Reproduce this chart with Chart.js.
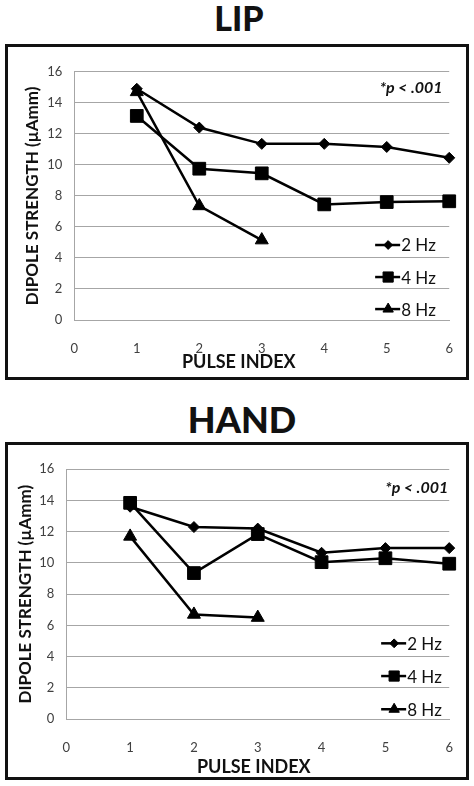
<!DOCTYPE html>
<html>
<head>
<meta charset="utf-8">
<script src="https://cdn.jsdelivr.net/npm/chart.js@4.4.1/dist/chart.umd.min.js"></script>
<style>
body { margin: 0; background: #fff; width: 474px; height: 786px; position: relative; overflow: hidden; font-family: Lato, sans-serif; }
.ttl { position: absolute; left: 0; width: 478px; text-align: center; font-weight: 900; color: #111; }
.box { position: absolute; left: 5px; width: 458px; border: 3px solid #111; }
canvas { display: block; }
</style>
</head>
<body>
<div class="ttl" style="top:1px;font-size:34px;line-height:34px">LIP</div>
<div class="box" style="top:44px;height:330px"><canvas id="lip" width="458" height="330"></canvas></div>
<div class="ttl" style="top:401px;font-size:36px;line-height:36px;width:484px">HAND</div>
<div class="box" style="top:442px;height:332px"><canvas id="hand" width="458" height="332"></canvas></div>
<script>
// pulse index on the x axis
const pulseIndex = [1, 2, 3, 4, 5, 6];
const seriesLabels = ['2 Hz', '4 Hz', '8 Hz'];
const pointStyles = ['rectRot', 'rect', 'triangle'];
const pointSizes = [5.5, 9, 7.5];

// LIP, dipole strength (uAmm)
const lip2Hz = [14.9, 12.4, 11.35, 11.35, 11.15, 10.45];
const lip4Hz = [13.15, 9.75, 9.45, 7.45, 7.6, 7.65];
const lip8Hz = [14.7, 7.35, 5.15];

// HAND, dipole strength (uAmm)
const hand2Hz = [13.6, 12.3, 12.2, 10.65, 10.95, 10.95];
const hand4Hz = [13.85, 9.35, 11.85, 10.05, 10.3, 9.95];
const hand8Hz = [11.7, 6.7, 6.5];

const pText = '*p < .001';
const xTitle = 'PULSE INDEX';
const yTitle = 'DIPOLE STRENGTH (µAmm)';

const extras = {
    id: 'extras',
    afterDatasetsDraw(chart, args, o) {
        const ctx = chart.ctx, a = chart.chartArea;
        ctx.save();
        ctx.fillStyle = '#111';
        ctx.textBaseline = 'middle';

        ctx.font = 'italic bold 16px Lato';
        ctx.textAlign = 'right';
        ctx.fillText(pText, a.right - o.pRight, a.top + o.pTop);

        ctx.font = '17px Lato';
        chart.data.datasets.forEach(function (ds, i) {
            const y = a.top + (a.bottom - a.top) * o.legFracs[i];
            const tw = ctx.measureText(ds.label).width;
            const tx = a.right - o.legRight - tw;
            ctx.strokeStyle = '#000';
            ctx.lineWidth = 2.5;
            ctx.beginPath();
            ctx.moveTo(tx - 26, y);
            ctx.lineTo(tx - 1, y);
            ctx.stroke();
            ctx.fillStyle = '#000';
            ctx.lineWidth = 1;
            Chart.helpers.drawPoint(ctx, {pointStyle: ds.pointStyle, radius: ds.pointRadius * 0.8, rotation: 0, borderWidth: 1}, tx - 13, y);
            ctx.fillStyle = '#111';
            ctx.textAlign = 'left';
            ctx.fillText(ds.label, tx, y + 1);
        });

        ctx.font = 'bold 18px Lato';
        ctx.textAlign = 'center';
        ctx.fillText(xTitle, (a.left + a.right) / 2 + o.xDx, a.bottom + o.xDy);
        ctx.restore();
    }
};

function makeDatasets(series) {
    return series.map(function (vals, i) {
        return {
            label: seriesLabels[i],
            data: vals.map(function (v, j) { return {x: pulseIndex[j], y: v}; }),
            borderColor: '#000',
            backgroundColor: '#000',
            borderWidth: 2.5,
            pointStyle: pointStyles[i],
            pointRadius: pointSizes[i],
            pointBackgroundColor: '#000',
            pointBorderColor: '#000',
            pointBorderWidth: 1,
            clip: false
        };
    });
}

function makeChart(id, series, g) {
    new Chart(document.getElementById(id).getContext('2d'), {
        type: 'line',
        data: {datasets: makeDatasets(series)},
        plugins: [extras],
        options: {
            responsive: false,
            animation: false,
            layout: {padding: {top: g.top, right: g.right, left: 0, bottom: 0}},
            plugins: {
                legend: {display: false},
                tooltip: {enabled: false},
                extras: g.extras
            },
            scales: {
                x: {
                    type: 'linear', min: 0, max: 6,
                    grid: {display: false},
                    border: {display: true, color: '#a6a6a6', width: 1},
                    ticks: {stepSize: 1, padding: 13, color: '#404040', font: {family: 'Lato', size: 13}},
                    afterFit: function (s) { s.height = g.xHeight; }
                },
                y: {
                    min: 0, max: 16,
                    grid: {color: '#a6a6a6', lineWidth: 1, drawTicks: false},
                    border: {display: true, color: '#a6a6a6', width: 1},
                    ticks: {stepSize: 2, padding: 12, color: '#404040', font: {family: 'Lato', size: 13}},
                    title: {display: true, text: yTitle, color: '#111', font: {family: 'Lato', size: 17, weight: 'bold'}, padding: {top: g.yTitlePad, bottom: 0}},
                    afterFit: function (s) { s.width = g.yWidth; }
                }
            }
        }
    });
}

makeChart('lip', [lip2Hz, lip4Hz, lip8Hz], {
    top: 24.7, right: 10.3, xHeight: 57, yWidth: 66.3, yTitlePad: 14,
    extras: {pRight: 6.7, pTop: 16.3, legRight: 13.4, legFracs: [0.698, 0.827, 0.956], xDx: -23, xDy: 42}
});
makeChart('hand', [hand2Hz, hand4Hz, hand8Hz], {
    top: 24.3, right: 14.3, xHeight: 58, yWidth: 58.3, yTitlePad: 7,
    extras: {pRight: 1, pTop: 18.3, legRight: 7.4, legFracs: [0.697, 0.828, 0.961], xDx: -4, xDy: 47.7}
});
</script>
</body>
</html>
